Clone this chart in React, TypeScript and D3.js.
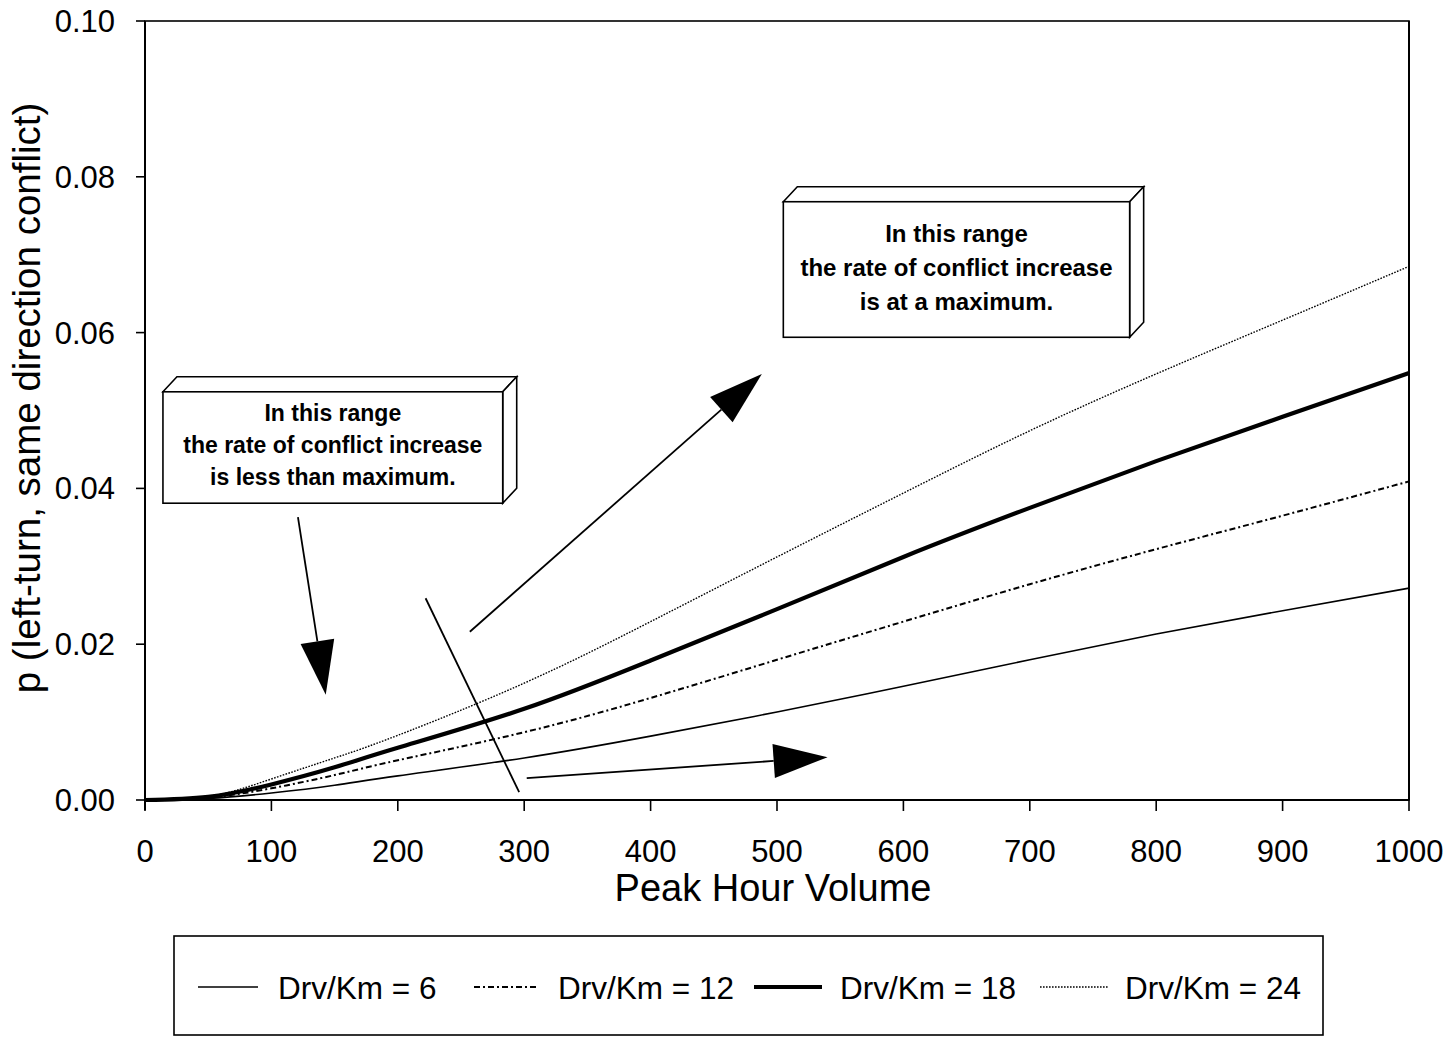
import React from "react";
import * as d3 from "d3";

// ---- data ----
const volume = [0, 50, 100, 150, 200, 300, 400, 500, 600, 700, 800, 900, 1000];
const drv6 = [0, 0.0002, 0.0009, 0.0019, 0.0031, 0.0054, 0.0082, 0.0113, 0.0146, 0.0180, 0.0213, 0.0243, 0.0272];
const drv12 = [0, 0.0003, 0.0015, 0.0032, 0.0051, 0.0087, 0.0131, 0.018, 0.0229, 0.0277, 0.0322, 0.0365, 0.0409];
const drv18 = [0, 0.0004, 0.002, 0.0042, 0.0067, 0.0117, 0.0179, 0.0245, 0.0312, 0.0375, 0.0435, 0.0492, 0.0548];
const drv24 = [0, 0.0004, 0.0027, 0.0054, 0.0083, 0.0150, 0.0229, 0.0312, 0.0394, 0.0474, 0.0547, 0.0616, 0.0685];
const seriesNames = ["Drv/Km = 6", "Drv/Km = 12", "Drv/Km = 18", "Drv/Km = 24"];
const xTicks = [0, 100, 200, 300, 400, 500, 600, 700, 800, 900, 1000];
const yTicks = [0, 0.02, 0.04, 0.06, 0.08, 0.1];

const box1Lines = ["In this range", "the rate of conflict increase", "is less than maximum."];
const box2Lines = ["In this range", "the rate of conflict increase", "is at a maximum."];

const FONT = "'Liberation Sans', Arial, Helvetica, sans-serif";

const styles = [
  { width: 1.6, dash: "" },
  { width: 2, dash: "6 3 2 3" },
  { width: 4.2, dash: "" },
  { width: 1.4, dash: "1.6 1.4" },
];

function Arrow({ x1, y1, x2, y2, head = 54, half = 17 }: any) {
  const dx = x2 - x1, dy = y2 - y1;
  const len = Math.hypot(dx, dy);
  const ux = dx / len, uy = dy / len;
  const bx = x2 - ux * head, by = y2 - uy * head;
  const px = -uy * half, py = ux * half;
  return (
    <g>
      <line x1={x1} y1={y1} x2={bx} y2={by} stroke="#000" strokeWidth={1.8} />
      <polygon points={`${x2},${y2} ${bx + px},${by + py} ${bx - px},${by - py}`} fill="#000" />
    </g>
  );
}

function Box3D({ x0, y0, x1, y1, lines, lineGap, fontSize, firstY }: any) {
  const dx = 14, dy = 15;
  return (
    <g stroke="#000" strokeWidth={1.6} fill="#fff">
      <polygon points={`${x0},${y0} ${x0 + dx},${y0 - dy} ${x1 + dx},${y0 - dy} ${x1},${y0}`} />
      <polygon points={`${x1},${y0} ${x1 + dx},${y0 - dy} ${x1 + dx},${y1 - dy} ${x1},${y1}`} />
      <rect x={x0} y={y0} width={x1 - x0} height={y1 - y0} />
      {lines.map((t: string, i: number) => (
        <text key={i} x={(x0 + x1) / 2} y={firstY + i * lineGap} textAnchor="middle" stroke="none" fill="#000"
          fontFamily={FONT} fontSize={fontSize} fontWeight="bold">{t}</text>
      ))}
    </g>
  );
}

export default function App() {
  const W = 1444, H = 1037;
  const x = d3.scaleLinear().domain([0, 1000]).range([145, 1409]);
  const y = d3.scaleLinear().domain([0, 0.1]).range([800, 21]);
  const all = [drv6, drv12, drv18, drv24];
  const line = d3.line<number>().x((_, i) => x(volume[i])).y((d) => y(d)).curve(d3.curveNatural);

  const legendItems = [
    { s0: 198, s1: 258, t: 278 },
    { s0: 474, s1: 538, t: 558 },
    { s0: 754, s1: 822, t: 840 },
    { s0: 1040, s1: 1108, t: 1125 },
  ];

  return (
    <svg width={W} height={H} style={{ position: "absolute", left: 0, top: 0, background: "#fff" }}>
      <rect x={0} y={0} width={W} height={H} fill="#fff" />
      {/* frame */}
      <rect x={x(0)} y={y(0.1)} width={x(1000) - x(0)} height={y(0) - y(0.1)} fill="none" stroke="#000" strokeWidth={1.6} />
      <line x1={x(0)} y1={y(0.1)} x2={x(0)} y2={y(0) + 10} stroke="#000" strokeWidth={2} />
      <line x1={x(0)} y1={y(0)} x2={x(1000)} y2={y(0)} stroke="#000" strokeWidth={2} />
      <line x1={x(1000)} y1={y(0.1)} x2={x(1000)} y2={y(0)} stroke="#000" strokeWidth={2} />

      {/* y ticks */}
      {yTicks.map((t) => (
        <g key={"y" + t}>
          <line x1={x(0) - 9} x2={x(0)} y1={y(t)} y2={y(t)} stroke="#000" strokeWidth={1.6} />
          <text x={x(0) - 30} y={y(t) + 11} textAnchor="end" fontFamily={FONT} fontSize={31}>{t.toFixed(2)}</text>
        </g>
      ))}
      {/* x ticks */}
      {xTicks.map((t) => (
        <g key={"x" + t}>
          <line x1={x(t)} x2={x(t)} y1={y(0)} y2={y(0) + 11} stroke="#000" strokeWidth={1.6} />
          <text x={x(t)} y={862} textAnchor="middle" fontFamily={FONT} fontSize={31}>{t}</text>
        </g>
      ))}
      <text x={773} y={901} textAnchor="middle" fontFamily={FONT} fontSize={38}>Peak Hour Volume</text>
      <text transform={`translate(40, ${398}) rotate(-90)`} textAnchor="middle" fontFamily={FONT} fontSize={38.5}>
        p (left-turn, same direction conflict)
      </text>

      {/* series */}
      {all.map((s, i) => (
        <path key={i} d={line(s) || ""} fill="none" stroke="#000" strokeWidth={styles[i].width}
          strokeDasharray={styles[i].dash} strokeLinejoin="round" />
      ))}

      {/* annotations (in data coordinates) */}
      <line x1={x(222)} y1={y(0.0259)} x2={x(296)} y2={y(0.001)} stroke="#000" strokeWidth={1.8} />
      <Arrow x1={x(121)} y1={y(0.0363)} x2={x(143)} y2={y(0.0135)} />
      <Arrow x1={x(257)} y1={y(0.0216)} x2={x(488)} y2={y(0.0547)} />
      <Arrow x1={x(302)} y1={y(0.0028)} x2={x(540)} y2={y(0.0055)} />

      <Box3D x0={x(14.2)} y0={y(0.0524)} x1={x(283)} y1={y(0.0381)} lines={box1Lines} lineGap={32}
        fontSize={23} firstY={421} />
      <Box3D x0={x(505)} y0={y(0.0768)} x1={x(779)} y1={y(0.0594)} lines={box2Lines} lineGap={34}
        fontSize={24} firstY={242} />

      {/* legend */}
      <rect x={174} y={936} width={1149} height={99} fill="#fff" stroke="#000" strokeWidth={1.6} />
      {legendItems.map((it, i) => (
        <g key={"l" + i}>
          <line x1={it.s0} x2={it.s1} y1={987} y2={987} stroke="#000" strokeWidth={styles[i].width}
            strokeDasharray={styles[i].dash} />
          <text x={it.t} y={999} fontFamily={FONT} fontSize={31.5}>{seriesNames[i]}</text>
        </g>
      ))}
    </svg>
  );
}
